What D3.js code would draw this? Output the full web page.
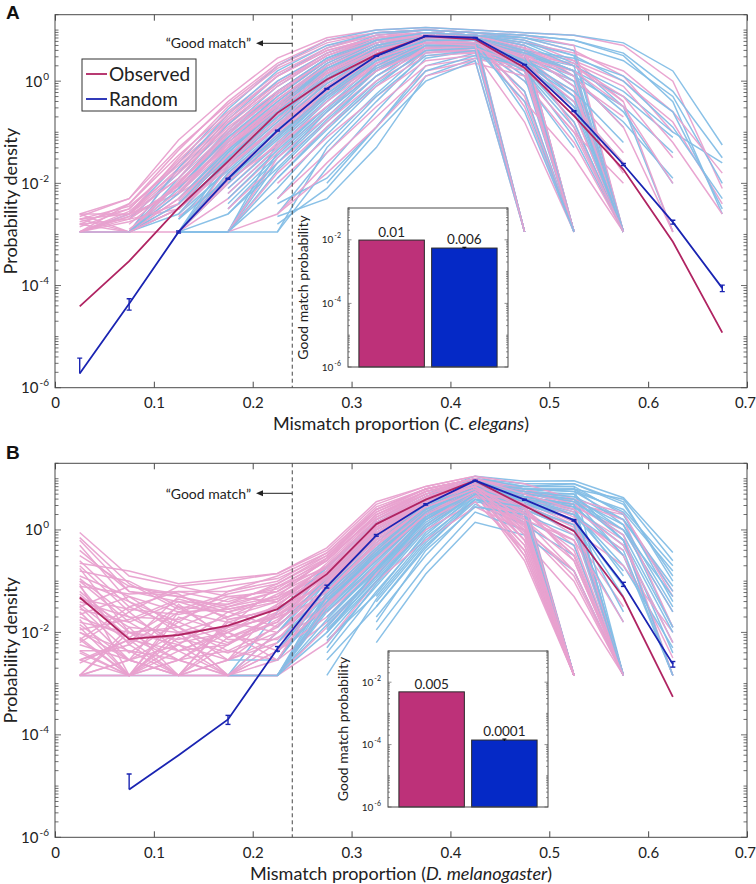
<!DOCTYPE html>
<html><head><meta charset="utf-8">
<script src="https://cdn.jsdelivr.net/npm/d3@7"></script>
<style>
body{margin:0;background:#fff}
svg{display:block;font-family:Lato,'Open Sans',sans-serif}
</style>
</head><body>
<svg id="chart" width="756" height="884"></svg>
<script>
// ---------------- DATA ----------------
const binsA = [0.025,0.075,0.125,0.175,0.225,0.275,0.325,0.375,0.425,0.475,0.525,0.575,0.625,0.675];
const binsB = [0.025,0.075,0.125,0.175,0.225,0.275,0.325,0.375,0.425,0.475,0.525,0.575,0.625];
const xTickValues = [0,0.1,0.2,0.3,0.4,0.5,0.6,0.7];
const xTickLabels = ['0','0.1','0.2','0.3','0.4','0.5','0.6','0.7'];
const yTickExponents = [-6,-4,-2,0];
const insetTickExponents = [-6,-4,-2];
const goodMatchThreshold = 0.24;
const seriesNames = ['Observed','Random'];

// mean curves (probability density)
const obsA  = [3.9e-5,3.0e-4,3.3e-3,0.027,0.24,1.08,3.3,7.6,6.6,1.83,0.21,0.0186,7.2e-4,1.2e-5];
const randA = [1.9e-6,4.4e-5,1.12e-3,0.0123,0.108,0.71,3.1,7.6,7.1,2.1,0.26,0.0234,1.74e-3,8.9e-5];
const randErrA = [1.9e-6,1.1e-5,5e-5,3e-4,2e-3,1e-2,3e-2,5e-2,5e-2,2e-2,5e-3,1e-3,1.5e-4,1.3e-5];
const obsB  = [0.048,0.0074,0.0089,0.0135,0.0285,0.137,1.3,3.9,9.2,2.95,0.95,0.048,5.5e-4];
const randB = [null,8.6e-6,4.0e-5,2.0e-4,4.8e-3,0.0785,0.785,3.15,9.2,3.9,1.54,0.087,2.4e-3];
const randErrB = [null,8.6e-6,0,4e-5,5e-4,5e-3,3e-2,0.1,0.2,0.1,0.05,8e-3,3e-4];

// inset bars: good match probability
const insetA_values = [0.0098,0.0055];
const insetA_err    = [0,0.0003];
const insetA_labels = ['0.01','0.006'];
const insetB_values = [0.0049,0.00014];
const insetB_err    = [0,0.00001];
const insetB_labels = ['0.005','0.0001'];

// individual traces (log10 of probability density)
const traceA_obs_log10 = [
[-2.6,-2.3,-1.15,-0.3,0.45,0.85,1.0,1.05,1.0,0.95,0.9,0.7,0.0,-2.1],
[-2.65,-2.3,-1.3,-0.45,0.3,0.75,0.95,1.0,0.95,0.85,0.6,0.1,-1.0,null],
[-2.95,-2.4,-1.45,-0.6,0.15,0.65,0.9,1.0,0.95,0.8,0.4,-0.4,null,null],
[-2.75,-2.5,-1.6,-0.75,0.0,0.55,0.85,0.95,0.9,0.7,0.1,-2.95,null,null],
[-2.8,-2.95,-1.7,-0.85,-0.1,0.5,0.85,0.95,0.9,0.6,-2.95,null,null,null],
[null,-2.6,-1.8,-0.95,-0.2,0.45,0.8,0.95,0.9,-2.95,null,null,null,null],
[-2.95,-2.65,-1.9,-1.0,-0.3,0.4,0.8,0.9,0.85,0.5,-0.3,-1.4,null,null],
[-2.6,-2.95,-2.0,-1.1,-0.35,0.35,0.75,0.9,0.85,0.45,-2.95,null,null,null],
[null,-2.7,-2.05,-1.15,-0.4,0.3,0.75,0.9,0.85,0.4,-0.6,-2.95,null,null],
[-2.95,-2.65,-2.1,-1.2,-0.45,0.25,0.7,0.9,0.8,-2.95,null,null,null,null],
[null,-2.95,-2.2,-1.3,-0.5,0.2,0.7,0.85,0.8,0.3,-0.8,-2.95,null,null],
[-2.7,-2.95,-2.3,-1.35,-0.55,0.15,0.65,0.85,0.8,0.2,-2.95,null,null,null],
[null,null,-2.35,-1.4,-0.6,0.1,0.6,0.85,0.8,0.1,-1.0,-2.0,null,null],
[null,-2.95,-2.4,-1.5,-0.7,0.05,0.6,0.8,0.75,-2.95,null,null,null,null],
[-2.95,-2.7,-2.5,-1.55,-0.75,0.0,0.55,0.8,0.75,0.0,-1.2,-2.95,null,null],
[null,null,-2.6,-1.6,-0.8,-0.05,0.5,0.8,0.75,-0.2,-2.95,null,null,null],
[null,-2.95,-2.95,-1.7,-0.9,-0.1,0.5,0.75,0.7,-2.95,null,null,null,null],
[null,null,-2.95,-1.8,-1.0,-0.2,0.45,0.75,0.7,-0.4,-1.5,-2.95,null,null],
[null,null,-2.65,-1.9,-1.05,-0.25,0.4,0.7,0.7,-2.95,null,null,null,null],
[null,null,-2.95,-2.0,-1.1,-0.3,0.35,0.7,0.65,0.6,0.4,0.0,-0.8,-2.4],
[null,null,null,-2.1,-1.2,-0.4,0.3,0.7,0.65,0.55,0.2,-2.95,null,null],
[null,null,null,-2.2,-1.3,-0.5,0.25,0.65,0.65,0.5,-2.95,null,null,null],
[null,null,-2.95,-2.3,-1.4,-0.6,0.2,0.65,0.6,0.45,0.0,-0.7,null,null],
[null,null,null,-2.95,-1.5,-0.7,0.1,0.6,0.6,0.4,-2.95,null,null,null],
[null,null,null,-2.5,-1.6,-0.8,0.0,0.55,0.6,0.35,-0.2,-2.95,null,null],
[null,null,null,-2.95,-1.8,-0.9,-0.1,0.5,0.55,0.3,-2.95,null,null,null],
[null,null,null,null,-2.0,-1.1,-0.3,0.4,0.5,0.25,-0.5,-1.6,null,null],
[null,null,null,null,-2.3,-1.4,-0.5,0.3,0.45,0.2,-2.95,null,null,null],
[-2.6,-2.6,-2.2,-1.6,-0.9,-0.3,0.3,0.6,0.55,-0.8,-2.95,null,null,null],
[-2.95,-2.6,-1.7,-0.7,0.1,0.6,0.85,0.95,0.9,0.75,0.55,0.2,-0.6,-1.8],
[null,-2.6,-1.5,-0.5,0.25,0.7,0.9,0.95,0.85,-0.5,-2.95,null,null,null],
[-2.8,-2.4,-1.35,-0.4,0.35,0.8,0.95,1.0,0.95,0.9,0.7,-2.95,null,null],
[null,null,-2.1,-1.25,-0.45,0.25,0.7,0.85,0.8,0.6,0.3,-0.3,-1.5,null],
[null,-2.95,-2.0,-1.0,-0.25,0.4,0.8,0.9,0.85,0.65,0.3,-0.4,-2.95,null],
[null,null,null,-2.95,-2.6,-1.6,-0.7,0.2,0.4,-2.95,null,null,null,null],
[null,null,null,null,-2.6,-1.8,-0.9,0.1,0.35,0.1,-1.0,-2.95,null,null],
[-2.95,-2.95,-2.5,-1.3,-0.6,0.2,0.65,0.85,0.8,0.5,0.1,-0.9,-2.95,null],
[-2.7,-2.6,-1.9,-0.8,-0.05,0.55,0.85,0.95,0.9,0.7,-2.95,null,null,null],
[null,-2.95,-2.3,-1.45,-0.65,0.05,0.55,0.8,0.75,0.35,-0.6,-2.95,null,null],
[null,null,-2.95,-1.85,-1.0,-0.3,0.35,0.7,0.7,0.5,0.35,-0.1,-1.2,-2.6],
[null,-2.8,-2.0,-1.05,-0.25,0.4,0.8,0.9,0.85,0.55,-0.1,-2.95,null,null],
[-2.85,-2.5,-1.55,-0.65,0.1,0.6,0.85,0.95,0.9,0.65,-2.95,null,null,null],
[null,null,-2.2,-1.2,-0.5,0.2,0.65,0.85,0.8,-2.95,null,null,null,null],
[-2.95,-2.75,-2.4,-1.45,-0.65,0.1,0.6,0.85,0.8,0.4,-0.4,-1.8,null,null],
[null,-2.95,-1.95,-1.15,-0.35,0.3,0.7,0.9,0.85,0.45,-2.95,null,null,null],
[-2.7,-2.45,-1.65,-0.8,-0.05,0.5,0.8,0.9,0.85,-0.3,-2.95,null,null,null],
[null,null,-2.5,-1.7,-0.85,-0.1,0.45,0.75,0.75,0.45,0.2,-0.5,-2.0,null],
[null,-2.9,-2.15,-1.25,-0.55,0.15,0.6,0.8,0.8,0.2,-2.95,null,null,null],
[-2.95,-2.55,-1.75,-0.9,-0.2,0.4,0.75,0.9,0.85,0.6,0.2,-2.95,null,null],
[null,null,-2.95,-1.95,-1.25,-0.5,0.2,0.6,0.65,0.3,-2.95,null,null,null],
[-2.8,-2.7,-2.05,-1.3,-0.55,0.15,0.6,0.85,0.8,0.5,-0.9,-2.95,null,null],
[null,-2.95,-2.5,-1.65,-0.9,-0.15,0.45,0.75,0.7,-2.95,null,null,null,null]
];
const traceA_rand_log10 = [
[-2.95,-2.6,-1.6,-0.55,0.3,0.8,1.0,1.05,1.0,0.95,0.9,0.75,0.2,-1.25],
[null,-2.7,-1.8,-0.75,0.1,0.65,0.95,1.0,0.95,0.9,0.8,0.5,-0.4,-2.6],
[null,-2.95,-2.0,-0.95,-0.1,0.5,0.85,0.95,0.9,0.8,0.5,-2.95,null,null],
[null,null,-2.2,-1.15,-0.3,0.4,0.8,0.95,0.9,0.7,-2.95,null,null,null],
[null,null,-2.3,-1.3,-0.45,0.3,0.75,0.9,0.9,-2.95,null,null,null,null],
[null,null,-2.4,-1.45,-0.6,0.2,0.7,0.9,0.85,0.6,0.1,-0.9,null,null],
[null,null,-2.5,-1.6,-0.75,0.1,0.65,0.9,0.85,0.5,-2.95,null,null,null],
[null,-2.95,-2.6,-1.75,-0.9,0.0,0.6,0.85,0.85,0.45,-0.3,-2.95,null,null],
[null,null,-2.95,-1.85,-1.0,-0.1,0.55,0.85,0.8,-2.95,null,null,null,null],
[null,null,-2.95,-2.0,-1.1,-0.2,0.5,0.85,0.8,0.35,-0.5,-1.6,null,null],
[null,null,-2.95,-2.95,-1.2,-0.3,0.45,0.8,0.8,0.3,-2.95,null,null,null],
[null,null,null,-2.2,-1.3,-0.4,0.4,0.8,0.8,0.25,-0.8,-2.95,null,null],
[null,null,-2.95,-2.95,-1.4,-0.5,0.35,0.8,0.75,-2.95,null,null,null,null],
[null,null,null,-2.5,-1.5,-0.6,0.3,0.75,0.75,0.2,-1.1,-2.95,null,null],
[null,null,null,-2.95,-1.6,-0.7,0.2,0.75,0.75,0.1,-2.95,null,null,null],
[null,null,null,-2.95,-1.75,-0.8,0.1,0.7,0.7,0.0,-1.3,null,null,null],
[null,null,null,null,-1.9,-0.9,0.0,0.7,0.7,-2.95,null,null,null,null],
[null,null,null,-2.95,-2.1,-1.05,-0.1,0.65,0.7,-0.2,-2.95,null,null,null],
[null,null,null,null,-2.3,-1.2,-0.25,0.6,0.65,0.5,0.3,-0.2,-1.0,-1.6],
[null,null,null,null,-2.6,-1.4,-0.4,0.55,0.65,0.5,0.2,-2.95,null,null],
[null,null,null,null,-2.95,-1.7,-0.6,0.45,0.6,0.45,-2.95,null,null,null],
[null,null,null,null,null,-2.0,-0.9,0.3,0.55,0.4,0.0,-0.8,-1.9,null],
[null,null,null,null,-2.65,-2.3,-1.3,0.1,0.45,0.35,-2.95,null,null,null],
[-2.95,-2.95,-2.0,-1.0,-0.2,0.45,0.85,0.95,0.9,0.85,0.7,0.4,-0.3,-2.0],
[null,-2.95,-1.9,-0.85,0.0,0.55,0.9,1.0,0.95,0.85,0.6,-2.95,null,null],
[null,null,-2.1,-1.05,-0.2,0.45,0.8,0.95,0.9,0.75,0.35,-0.5,-2.95,null],
[null,null,-2.95,-1.5,-0.65,0.15,0.65,0.85,0.85,0.55,-0.1,-2.95,null,null],
[null,null,null,-1.95,-1.05,-0.25,0.45,0.8,0.75,0.4,-2.95,null,null,null],
[null,null,null,-2.3,-1.35,-0.5,0.25,0.7,0.7,0.45,0.1,-0.5,-1.4,null],
[null,null,-2.95,-2.95,-2.95,-1.3,-0.3,0.5,0.6,-2.95,null,null,null,null],
[null,-2.95,-2.4,-1.5,-0.7,0.1,0.6,0.85,0.8,0.55,0.2,-0.3,-1.1,null],
[null,null,-2.7,-1.7,-0.85,-0.05,0.55,0.85,0.8,0.4,-2.95,null,null,null],
[null,null,null,-2.1,-1.25,-0.35,0.4,0.75,0.75,0.6,0.45,0.1,-0.6,-2.5],
[null,null,-2.95,-1.9,-0.95,-0.15,0.5,0.85,0.8,-0.6,-2.95,null,null,null],
[-2.95,-2.95,-2.5,-1.4,-0.5,0.25,0.7,0.9,0.85,0.6,0.0,-2.95,null,null],
[null,null,null,null,-2.4,-1.9,-0.9,0.2,0.5,0.3,-0.4,-2.95,null,null],
[null,-2.95,-1.7,-0.65,0.2,0.7,0.95,1.0,0.95,0.9,0.8,0.55,-0.2,-1.5],
[null,null,-2.3,-1.35,-0.5,0.3,0.75,0.9,0.85,0.65,-2.95,null,null,null],
[null,null,-2.95,-2.6,-1.6,-0.6,0.2,0.7,0.7,0.3,-2.95,null,null,null],
[null,null,null,null,-2.8,-2.1,-1.0,0.0,0.4,-2.95,null,null,null,null],
[null,null,-2.6,-1.5,-0.6,0.2,0.7,0.9,0.85,0.5,-0.5,-2.95,null,null],
[null,-2.95,-2.2,-1.2,-0.4,0.35,0.8,0.95,0.9,0.7,0.3,-2.95,null,null],
[null,null,-2.95,-1.65,-0.8,0.05,0.6,0.85,0.8,0.3,-2.95,null,null,null],
[null,null,null,-2.0,-1.15,-0.3,0.4,0.8,0.8,0.55,0.2,-0.6,-2.0,null],
[null,null,-2.4,-1.4,-0.55,0.25,0.7,0.9,0.85,-2.95,null,null,null,null],
[null,null,null,-2.4,-1.45,-0.55,0.3,0.75,0.75,0.35,-0.3,-2.95,null,null],
[null,-2.95,-2.1,-1.1,-0.3,0.4,0.8,0.95,0.9,0.75,0.5,0.0,-0.9,-2.3],
[null,null,-2.95,-1.8,-0.95,-0.15,0.5,0.85,0.8,0.5,-2.95,null,null,null],
[null,null,null,-2.6,-1.7,-0.75,0.1,0.7,0.7,0.2,-0.9,-2.95,null,null],
[null,null,-2.5,-1.55,-0.7,0.1,0.65,0.85,0.85,0.6,0.2,-2.95,null,null],
[null,null,null,-2.95,-1.9,-0.95,-0.05,0.6,0.65,-0.4,-2.95,null,null,null],
[null,null,-2.7,-1.9,-1.1,-0.25,0.45,0.8,0.8,0.4,-0.2,-1.2,null,null]
];
const traceB_obs_log10 = [
[-0.05,-0.9,-1.1,-1.0,-0.85,-0.4,0.5,0.85,1.05,0.8,0.5,0.3,-1.2],
[-0.4,-1.2,-1.3,-1.1,-0.95,-0.5,0.4,0.8,1.0,0.7,0.4,-0.2,-2.84],
[-0.6,-1.5,-1.2,-1.4,-1.1,-0.6,0.3,0.75,1.0,0.6,0.2,-2.84,null],
[-0.9,-1.3,-1.6,-1.3,-1.2,-0.7,0.2,0.7,0.95,0.5,-2.84,null,null],
[-1.0,-1.8,-1.4,-1.7,-1.4,-0.8,0.1,0.65,0.95,0.4,-0.3,-2.84,null],
[-1.2,-2.0,-1.9,-1.5,-1.3,-0.85,0.0,0.6,0.9,0.3,-2.84,null,null],
[-1.4,-1.7,-2.2,-2.0,-1.6,-0.9,-0.1,0.55,0.9,0.2,-0.8,-2.84,null],
[-1.5,-2.4,-1.8,-2.2,-1.8,-1.0,-0.2,0.5,0.85,0.1,-2.84,null,null],
[-1.7,-2.1,-2.54,-1.9,-1.5,-1.1,-0.3,0.45,0.85,0.0,-1.0,-2.84,null],
[-1.9,-2.84,-2.1,-2.4,-2.0,-1.2,-0.4,0.4,0.8,-0.1,-2.84,null,null],
[-2.0,-2.54,-2.84,-2.1,-1.7,-1.3,-0.5,0.35,0.8,-0.2,-1.3,-2.84,null],
[-2.2,-1.6,-2.36,-2.84,-2.2,-1.4,-0.6,0.3,0.75,-0.3,-2.84,null,null],
[-2.4,-2.84,-1.7,-2.0,-2.36,-1.5,-0.7,0.25,0.75,-0.4,-2.84,null,null],
[-2.54,-2.24,-2.84,-2.54,-2.1,-1.6,-0.8,0.2,0.7,-0.5,-2.84,null,null],
[-2.84,-2.54,-2.0,-2.84,-2.54,-1.8,-0.9,0.1,0.7,-0.6,-2.84,null,null],
[-0.3,-1.4,-1.8,-1.2,-1.0,-0.45,0.45,0.8,1.0,0.75,0.45,0.0,-1.6],
[-0.8,-1.0,-1.5,-1.6,-1.3,-0.55,0.35,0.75,0.95,0.65,0.3,-0.5,-2.5],
[-1.1,-2.24,-1.6,-1.8,-1.5,-0.65,0.25,0.7,0.95,0.55,0.1,-2.84,null],
[-1.3,-1.9,-2.0,-1.7,-1.25,-0.75,0.15,0.65,0.9,0.5,-0.1,-1.5,null],
[-1.6,-2.54,-2.24,-1.6,-1.4,-0.8,0.05,0.6,0.9,0.45,-2.84,null,null],
[-1.8,-2.0,-2.54,-2.36,-1.9,-0.95,-0.05,0.55,0.85,0.35,-0.5,-2.84,null],
[-2.1,-2.84,-2.0,-2.24,-1.75,-1.05,-0.15,0.5,0.85,0.25,-2.84,null,null],
[-2.36,-2.36,-2.84,-1.8,-2.0,-1.15,-0.25,0.45,0.8,0.15,-2.84,null,null],
[-2.84,-2.0,-2.24,-2.54,-2.2,-1.25,-0.35,0.4,0.8,0.05,-0.9,-2.84,null],
[-2.54,-2.84,-2.54,-2.0,-2.54,-1.35,-0.45,0.35,0.75,-0.05,-2.84,null,null],
[-0.5,-1.1,-1.3,-1.5,-1.2,-0.6,0.3,0.7,0.95,0.7,0.35,-2.84,null],
[-0.7,-1.6,-1.1,-1.3,-1.4,-0.7,0.2,0.7,0.9,0.6,-2.84,null,null],
[-1.0,-1.4,-2.0,-1.9,-1.1,-0.75,0.15,0.65,0.9,-0.2,-2.84,null,null],
[-1.25,-2.1,-1.5,-2.1,-1.8,-0.9,0.05,0.6,0.85,0.4,0.0,-0.7,-2.0],
[-1.55,-1.8,-2.36,-2.24,-1.6,-1.0,-0.1,0.55,0.85,-0.5,-2.84,null,null],
[-2.84,-2.84,-2.84,-2.54,-1.85,-1.2,-0.3,0.45,0.8,0.2,-0.6,-2.84,null],
[-2.24,-2.54,-2.84,-2.84,-2.84,-1.5,-0.5,0.3,0.7,-0.3,-2.84,null,null],
[-1.75,-2.84,-2.24,-2.84,-2.36,-1.7,-0.7,0.2,0.65,0.1,-2.84,null,null],
[-2.0,-2.36,-2.54,-2.84,-2.84,-1.9,-0.85,0.0,0.55,-0.4,-2.84,null,null],
[-2.84,-2.84,-2.54,-2.84,-2.84,-2.2,-1.0,-0.2,0.45,0.0,-0.8,-2.84,null],
[-0.2,-1.2,-1.4,-1.45,-1.05,-0.5,0.35,0.8,1.0,0.8,0.55,0.2,-1.9],
[-0.95,-1.7,-1.75,-1.35,-1.15,-0.55,0.25,0.75,0.95,0.65,0.25,-0.4,null],
[-1.45,-2.2,-1.3,-1.55,-1.35,-0.7,0.2,0.65,0.9,0.5,0.05,-2.84,null],
[-2.14,-1.5,-1.9,-2.54,-1.45,-0.85,0.1,0.6,0.9,0.3,-2.84,null,null],
[-2.54,-2.14,-2.36,-1.95,-1.65,-1.0,-0.05,0.5,0.85,0.2,-0.2,-2.84,null],
[-1.85,-2.54,-1.45,-2.14,-2.14,-1.1,-0.2,0.45,0.8,0.1,-2.84,null,null],
[-0.65,-0.8,-1.05,-0.95,-0.85,-0.35,0.55,0.85,1.05,0.9,0.6,0.33,-1.3],
[-1.1,-1.25,-1.2,-1.2,-0.9,-0.45,0.4,0.8,1.0,0.75,0.5,-0.1,-2.84],
[-2.84,-1.9,-2.84,-1.75,-1.55,-0.8,0.0,0.55,0.85,0.35,-0.4,-2.84,null],
[-2.36,-2.84,-2.0,-2.84,-2.0,-1.3,-0.4,0.35,0.75,0.0,-2.84,null,null],
[-1.35,-1.55,-1.65,-1.45,-1.2,-0.6,0.3,0.75,0.95,0.6,0.15,-2.84,null],
[-0.75,-2.0,-2.14,-1.9,-1.7,-0.95,0.0,0.6,0.9,0.4,-0.5,-2.84,null],
[-2.14,-2.84,-1.6,-1.55,-1.35,-0.8,0.1,0.65,0.9,0.5,-2.84,null,null],
[-1.65,-1.3,-1.9,-2.36,-2.54,-1.05,-0.1,0.55,0.85,0.3,-0.2,-1.8,null],
[-2.6,-2.14,-2.84,-2.24,-1.65,-1.2,-0.25,0.45,0.8,0.1,-2.84,null,null],
[-0.15,-1.05,-1.55,-1.25,-1.05,-0.55,0.4,0.8,1.0,0.7,0.4,-0.3,-2.2],
[-1.95,-1.75,-1.35,-1.6,-1.9,-1.0,-0.05,0.55,0.85,0.2,-2.84,null,null],
[-2.84,-2.54,-2.84,-2.84,-2.36,-1.45,-0.55,0.3,0.75,-0.2,-2.84,null,null],
[-1.05,-2.84,-2.36,-2.0,-1.45,-0.85,0.1,0.6,0.9,0.45,-0.6,-2.84,null],
[-1.5,-1.1,-1.25,-1.75,-1.55,-0.9,0.05,0.6,0.85,-0.1,-2.84,null,null]
];
const traceB_rand_log10 = [
[null,null,null,-2.84,-1.6,-0.7,0.2,0.7,1.05,0.95,0.96,0.63,-0.44],
[null,null,null,null,-1.8,-0.8,0.1,0.65,1.0,0.9,0.9,0.5,-0.9],
[null,null,null,-2.84,-2.0,-0.9,0.0,0.6,1.0,0.85,0.85,0.3,-1.4],
[null,null,null,null,-2.2,-1.0,-0.1,0.55,0.95,0.8,0.8,0.1,-1.9],
[null,null,null,null,-2.4,-1.1,-0.2,0.5,0.95,0.75,0.7,-0.2,-2.4],
[null,null,null,null,-2.84,-1.2,-0.3,0.45,0.9,0.7,0.6,-0.5,-2.84],
[null,null,null,null,-2.54,-1.3,-0.4,0.4,0.9,0.65,0.5,-2.84,null],
[null,null,null,null,-2.84,-1.4,-0.5,0.35,0.85,0.6,0.4,-0.9,null],
[null,null,null,null,null,-1.5,-0.6,0.3,0.85,0.55,0.3,-2.84,null],
[null,null,null,null,-2.84,-1.6,-0.7,0.25,0.8,0.5,0.2,-1.3,null],
[null,null,null,null,null,-1.7,-0.8,0.2,0.8,0.45,-2.84,null,null],
[null,null,null,null,-2.84,-1.85,-0.9,0.15,0.75,0.4,0.1,-2.84,null],
[null,null,null,null,null,-2.0,-1.0,0.1,0.75,0.35,-2.84,null,null],
[null,null,null,null,null,-2.2,-1.1,0.0,0.7,0.3,-0.1,-1.8,null],
[null,null,null,null,null,-2.4,-1.2,-0.1,0.7,0.25,-2.84,null,null],
[null,null,null,null,null,-2.84,-1.35,-0.2,0.65,0.2,-0.3,-2.84,null],
[null,null,null,null,null,-2.54,-1.5,-0.35,0.6,0.15,-2.84,null,null],
[null,null,null,null,null,null,-1.7,-0.5,0.5,0.1,-0.5,-2.84,null],
[null,null,null,null,null,null,-1.95,-0.7,0.35,0.0,-2.84,null,null],
[null,null,null,null,null,null,-2.2,-0.86,0.15,-0.1,-0.8,-2.84,null],
[-2.84,-2.84,-2.84,-2.84,-2.84,-1.5,-0.4,0.45,0.9,0.7,0.65,0.2,-1.1],
[null,null,null,-2.54,-2.54,-1.1,-0.15,0.55,0.95,0.8,0.75,0.4,-0.7],
[null,null,null,null,-1.58,-0.74,0.15,0.65,1.0,0.85,0.85,-2.84,null],
[null,null,null,null,-2.0,-1.0,-0.05,0.55,0.95,0.75,0.55,0.0,-1.6],
[null,null,null,null,-2.36,-1.25,-0.35,0.45,0.9,0.65,0.45,-2.84,null],
[null,null,null,null,null,-1.45,-0.55,0.35,0.85,0.6,0.35,-0.7,-2.3],
[null,null,null,null,-2.84,-1.75,-0.75,0.25,0.8,0.55,-2.84,null,null],
[null,null,null,null,null,-1.95,-0.95,0.1,0.75,0.5,0.2,-1.1,null],
[null,null,null,null,null,-2.16,-1.25,-0.05,0.65,0.45,-2.84,null,null],
[null,null,null,null,null,null,-1.5,-0.3,0.55,0.4,0.0,-2.84,null],
[null,null,null,null,-2.84,-1.3,-0.45,0.4,0.85,0.85,0.9,0.55,-1.0],
[null,null,null,null,null,-1.6,-0.65,0.3,0.8,0.7,0.7,-0.2,-2.0],
[null,null,null,null,null,-1.8,-0.85,0.2,0.75,0.6,0.5,-2.84,null],
[null,null,null,null,null,-2.3,-1.05,0.05,0.7,0.5,0.3,-0.4,-2.84],
[null,null,null,null,null,null,-1.3,-0.15,0.6,0.35,-2.84,null,null],
[null,null,null,-2.84,-2.84,-2.0,-0.9,0.2,0.8,0.75,0.8,0.6,-0.6],
[null,null,null,null,-2.54,-1.4,-0.5,0.4,0.85,0.7,0.6,0.1,-1.5],
[null,null,null,null,null,-2.0,-0.8,0.3,0.8,0.6,0.45,-0.3,-2.2],
[null,null,null,null,null,null,-1.8,-0.4,0.45,0.3,-2.84,null,null],
[null,null,null,null,null,-1.35,-0.5,0.35,0.85,0.65,0.5,-0.5,null],
[null,null,null,null,-1.9,-0.95,0.0,0.55,0.95,0.8,0.75,0.2,-1.2],
[null,null,null,null,null,-1.4,-0.45,0.35,0.85,0.7,0.55,-0.1,-1.9],
[null,null,null,null,-2.84,-1.55,-0.6,0.3,0.8,0.65,0.5,-2.84,null],
[null,null,null,null,null,-1.9,-0.8,0.2,0.8,0.6,0.3,-0.8,null],
[null,null,null,null,-2.2,-1.15,-0.25,0.5,0.9,0.75,0.65,0.0,-1.3],
[null,null,null,null,null,-2.1,-1.0,0.05,0.7,0.5,-2.84,null,null],
[null,null,null,null,-2.54,-1.3,-0.4,0.45,0.9,0.8,0.8,0.35,-0.8],
[null,null,null,null,null,-1.7,-0.75,0.25,0.8,0.55,0.2,-1.6,null],
[null,null,null,null,null,null,-1.4,-0.25,0.6,0.45,0.1,-2.84,null],
[null,null,null,null,-2.84,-1.45,-0.5,0.35,0.85,0.7,0.6,-0.2,-2.84]
];

// ---------------- STYLE ----------------
const C = {
  pink:'#E8A1CF', lightBlue:'#84BEE6',
  obs:'#B02462', rand:'#1A24B2',
  barObs:'#BD3179', barRand:'#0529C6',
  axis:'#4a4a4a', text:'#222'
};

const svg = d3.select('#chart');
const defs = svg.append('defs');

const panels = [
  {id:'A', top:14.7, bottom:387.7, bins:binsA, obs:obsA, rand:randA, randErr:randErrA,
   trObs:traceA_obs_log10, trRand:traceA_rand_log10, species:'C. elegans',
   inset:{x0:348,x1:508,y0:208,y1:367}, insetVals:insetA_values, insetErr:insetA_err, insetLabels:insetA_labels,
   legend:true, annY:43.3, annBase:47.5, letterY:18.5, xlabBase:430},
  {id:'B', top:463.3, bottom:837.3, bins:binsB, obs:obsB, rand:randB, randErr:randErrB,
   trObs:traceB_obs_log10, trRand:traceB_rand_log10, species:'D. melanogaster',
   inset:{x0:388,x1:548,y0:651,y1:807}, insetVals:insetB_values, insetErr:insetB_err, insetLabels:insetB_labels,
   legend:false, annY:493.3, annBase:498.5, letterY:459, xlabBase:880}
];

const L = 55, R = 747;

function logTicks(lo, hi){
  const out = [];
  for (let e = Math.floor(Math.log10(lo)); e <= Math.ceil(Math.log10(hi)); e++){
    for (let k = 1; k <= 9; k++){
      const v = k*Math.pow(10,e);
      if (v >= lo*0.9999 && v <= hi*1.0001) out.push({v, k, e});
    }
  }
  return out;
}

function expLabel(sel, xAnchor, yBase, e, fs, sfs, rise){
  const t = sel.append('text').attr('x',xAnchor).attr('y',yBase)
    .attr('text-anchor','end').attr('fill',C.text).style('font-size',fs+'px');
  t.append('tspan').text('10');
  t.append('tspan').attr('dy',-rise).attr('dx',1).style('font-size',sfs+'px').text(String(e));
}

panels.forEach(p => {
  const x = d3.scaleLinear().domain([0,0.7]).range([L,R]);
  const y = d3.scaleLog().domain([1e-6,20]).range([p.bottom,p.top]);
  const g = svg.append('g');

  defs.append('clipPath').attr('id','clip'+p.id).append('rect')
    .attr('x',L).attr('y',p.top).attr('width',R-L).attr('height',p.bottom-p.top);

  // individual traces
  const gTr = g.append('g').attr('clip-path',`url(#clip${p.id})`);
  const trLine = d3.line().defined(d => d[1] != null)
    .x(d => x(d[0])).y(d => y(Math.pow(10,d[1])));
  const n = Math.max(p.trObs.length, p.trRand.length);
  for (let i = 0; i < n; i++){
    const pair = i % 2 ? [[p.trRand[i], C.lightBlue],[p.trObs[i], C.pink]] : [[p.trObs[i], C.pink],[p.trRand[i], C.lightBlue]];
    pair.forEach(([tr,col]) => {
      if (!tr) return;
      gTr.append('path').datum(p.bins.map((b,j) => [b, tr[j] ?? null]))
        .attr('d',trLine).attr('fill','none').attr('stroke',col)
        .attr('stroke-width',1.5).attr('stroke-opacity',0.95);
    });
  }

  // good match threshold
  g.append('line').attr('x1',x(goodMatchThreshold)).attr('x2',x(goodMatchThreshold))
    .attr('y1',p.top).attr('y2',p.bottom).attr('stroke','#444').attr('stroke-width',1)
    .attr('stroke-dasharray','4,3');

  // mean lines
  const meanLine = d3.line().defined(d => d[1] != null && d[1] > 0)
    .x(d => x(d[0])).y(d => y(d[1]));
  const gM = g.append('g').attr('clip-path',`url(#clip${p.id})`);
  gM.append('path').datum(p.bins.map((b,j)=>[b,p.obs[j]])).attr('d',meanLine)
    .attr('fill','none').attr('stroke',C.obs).attr('stroke-width',1.8);
  gM.append('path').datum(p.bins.map((b,j)=>[b,p.rand[j]])).attr('d',meanLine)
    .attr('fill','none').attr('stroke',C.rand).attr('stroke-width',1.8);
  // error bars on random
  p.bins.forEach((b,j) => {
    const m = p.rand[j], e = p.randErr[j];
    if (m == null || !e) return;
    const cx = x(b), hi = y(m+e), cw = 2.5;
    const lower = m - e;
    const lo = lower > 0 ? y(lower) : y(m);
    gM.append('line').attr('x1',cx).attr('x2',cx).attr('y1',hi).attr('y2',lo)
      .attr('stroke',C.rand).attr('stroke-width',1.4);
    gM.append('line').attr('x1',cx-cw).attr('x2',cx+cw).attr('y1',hi).attr('y2',hi)
      .attr('stroke',C.rand).attr('stroke-width',1.4);
    if (lower > 0) gM.append('line').attr('x1',cx-cw).attr('x2',cx+cw).attr('y1',lo).attr('y2',lo)
      .attr('stroke',C.rand).attr('stroke-width',1.4);
  });

  // annotation
  g.append('text').attr('x',251).attr('y',p.annBase).attr('text-anchor','end')
    .attr('fill',C.text).style('font-size','14px').text('\u201CGood match\u201D');
  g.append('line').attr('x1',x(goodMatchThreshold)).attr('x2',262).attr('y1',p.annY).attr('y2',p.annY)
    .attr('stroke','#222').attr('stroke-width',1);
  g.append('path').attr('d',`M256,${p.annY} L263,${p.annY-3} L263,${p.annY+3} Z`).attr('fill','#222');

  // legend
  if (p.legend){
    const lg = g.append('g');
    lg.append('rect').attr('x',82).attr('y',59).attr('width',114).attr('height',52)
      .attr('fill','#fff').attr('stroke','#333').attr('stroke-width',1);
    [[seriesNames[0],C.obs,74],[seriesNames[1],C.rand,99]].forEach(([name,col,yy]) => {
      lg.append('line').attr('x1',86).attr('x2',107).attr('y1',yy).attr('y2',yy)
        .attr('stroke',col).attr('stroke-width',1.8);
      lg.append('text').attr('x',109).attr('y',yy).attr('dy','0.35em')
        .attr('fill',C.text).style('font-size','19px').text(name);
    });
  }

  // axes box
  g.append('rect').attr('x',L).attr('y',p.top).attr('width',R-L).attr('height',p.bottom-p.top)
    .attr('fill','none').attr('stroke',C.axis).attr('stroke-width',1);

  // x axis (bottom, ticks inward) + top ticks
  const xAxis = d3.axisBottom(x).tickValues(xTickValues)
    .tickFormat((d,i) => xTickLabels[i]).tickSizeInner(-6).tickSizeOuter(0).tickPadding(10);
  const gx = g.append('g').attr('transform',`translate(0,${p.bottom})`).call(xAxis);
  gx.select('.domain').remove();
  gx.selectAll('line').attr('stroke',C.axis);
  gx.selectAll('text').attr('fill',C.text).style('font-size','15px').style('font-family','Lato,sans-serif');
  gx.selectAll('text').filter((d,i) => i === xTickValues.length-1).attr('dx',-2);
  const gxt = g.append('g').attr('transform',`translate(0,${p.top})`)
    .call(d3.axisTop(x).tickValues(xTickValues).tickFormat('').tickSizeInner(-6).tickSizeOuter(0));
  gxt.select('.domain').remove();
  gxt.selectAll('line').attr('stroke',C.axis);

  // y ticks (log, inward, both sides)
  logTicks(1e-6,20).forEach(t => {
    const yy = y(t.v);
    const major = t.k === 1 && yTickExponents.includes(t.e);
    const len = major ? 6 : 3.5;
    g.append('line').attr('x1',L).attr('x2',L+len).attr('y1',yy).attr('y2',yy).attr('stroke',C.axis).attr('stroke-width',0.8);
    g.append('line').attr('x1',R).attr('x2',R-len).attr('y1',yy).attr('y2',yy).attr('stroke',C.axis).attr('stroke-width',0.8);
  });
  yTickExponents.forEach(e => expLabel(g, 49, y(Math.pow(10,e))+5.5, e, 15, 10, 7));

  // axis labels
  g.append('text').attr('transform',`translate(17,${(p.top+p.bottom)/2}) rotate(-90)`)
    .attr('text-anchor','middle').attr('fill',C.text).style('font-size','18px').text('Probability density');
  const xl = g.append('text').attr('x',(L+R)/2).attr('y',p.xlabBase).attr('text-anchor','middle')
    .attr('fill',C.text).style('font-size','18px');
  xl.append('tspan').text('Mismatch proportion (');
  xl.append('tspan').style('font-style','italic').text(p.species);
  xl.append('tspan').text(')');

  // panel letter
  g.append('text').attr('x',6).attr('y',p.letterY).attr('fill','#111')
    .style('font-family','"Liberation Sans",Arial,sans-serif').style('font-weight','bold').style('font-size','19px').text(p.id);

  // inset
  const I = p.inset;
  const gi = g.append('g');
  gi.append('rect').attr('x',I.x0).attr('y',I.y0).attr('width',I.x1-I.x0).attr('height',I.y1-I.y0)
    .attr('fill','#fff');
  const xi = d3.scaleBand().domain(seriesNames).range([I.x0,I.x1]).paddingInner(0.1).paddingOuter(0.15);
  const yi = d3.scaleLog().domain([1e-6,1e-1]).range([I.y1,I.y0]);
  seriesNames.forEach((s,i) => {
    const v = p.insetVals[i];
    gi.append('rect').attr('x',xi(s)).attr('y',yi(v)).attr('width',xi.bandwidth()).attr('height',I.y1-yi(v))
      .attr('fill',i===0?C.barObs:C.barRand).attr('stroke','#2a2a2a').attr('stroke-width',1);
    const e = p.insetErr[i];
    if (e > 0){
      const cx = xi(s)+xi.bandwidth()/2;
      gi.append('line').attr('x1',cx).attr('x2',cx).attr('y1',yi(v+e)).attr('y2',yi(v-e)).attr('stroke','#111').attr('stroke-width',1.2);
      gi.append('line').attr('x1',cx-2).attr('x2',cx+2).attr('y1',yi(v+e)).attr('y2',yi(v+e)).attr('stroke','#111').attr('stroke-width',1.2);
    }
    gi.append('text').attr('x',xi(s)+xi.bandwidth()/2).attr('y',yi(v+(e||0))-3).attr('text-anchor','middle')
      .attr('fill',C.text).style('font-size','13.5px').text(p.insetLabels[i]);
  });
  gi.append('rect').attr('x',I.x0).attr('y',I.y0).attr('width',I.x1-I.x0).attr('height',I.y1-I.y0)
    .attr('fill','none').attr('stroke',C.axis).attr('stroke-width',1);
  logTicks(1e-6,1e-1).forEach(t => {
    const yy = yi(t.v);
    const major = t.k === 1 && insetTickExponents.includes(t.e);
    const len = major ? 3.5 : 2;
    gi.append('line').attr('x1',I.x0).attr('x2',I.x0+len).attr('y1',yy).attr('y2',yy).attr('stroke',C.axis).attr('stroke-width',0.6);
    gi.append('line').attr('x1',I.x1).attr('x2',I.x1-len).attr('y1',yy).attr('y2',yy).attr('stroke',C.axis).attr('stroke-width',0.6);
  });
  insetTickExponents.forEach(e => expLabel(gi, I.x0-7, yi(Math.pow(10,e))+3.5, e, 10, 7, 5));
  gi.append('text').attr('transform',`translate(${I.x0-40},${(I.y0+I.y1)/2}) rotate(-90)`)
    .attr('text-anchor','middle').attr('fill',C.text).style('font-size','14px').text('Good match probability');
});
</script>
</body></html>
